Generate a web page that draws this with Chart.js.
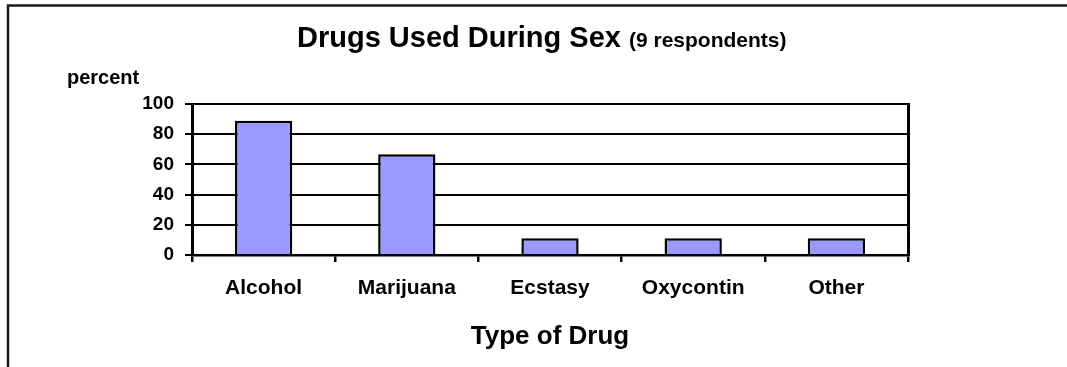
<!DOCTYPE html>
<html>
<head>
<meta charset="utf-8">
<script src="https://cdn.jsdelivr.net/npm/chart.js@4.4.1/dist/chart.umd.min.js"></script>
<style>
  html, body { margin: 0; padding: 0; background: #fff; overflow: hidden; }
  canvas { display: block; }
</style>
</head>
<body>
<canvas id="c" width="1067" height="367" style="width:1067px;height:367px"></canvas>
<script>
// Share of respondents reporting each drug
const categories = ['Alcohol', 'Marijuana', 'Ecstasy', 'Oxycontin', 'Other'];
const percentValues = [88.9, 66.7, 11.1, 11.1, 11.1];
const yTickMin = 0;
const yTickMax = 100;
const yTickStep = 20;

const titleMain = 'Drugs Used During Sex';
const titleNote = '(9 respondents)';
const yAxisLabel = 'percent';
const xAxisLabel = 'Type of Drug';

const FONT = '"Liberation Sans", Arial, Helvetica, sans-serif';

// Title, axis captions and the outer frame
const chartText = {
  id: 'chartText',
  afterDraw(chart) {
    const ctx = chart.ctx;
    const area = chart.chartArea;
    ctx.save();

    ctx.strokeStyle = '#1a1a1a';
    ctx.lineWidth = 2.5;
    ctx.beginPath();
    ctx.moveTo(8, chart.height);
    ctx.lineTo(8, 5.5);
    ctx.lineTo(chart.width, 5.5);
    ctx.stroke();

    ctx.fillStyle = '#000';
    ctx.textBaseline = 'alphabetic';
    ctx.textAlign = 'left';

    ctx.font = 'bold 29px ' + FONT;
    const w1 = ctx.measureText(titleMain + ' ').width;
    ctx.fillText(titleMain, 297, 47);
    ctx.font = 'bold 21px ' + FONT;
    ctx.fillText(titleNote, 297 + w1, 47);

    ctx.font = 'bold 20px ' + FONT;
    ctx.fillText(yAxisLabel, 67, 84);

    ctx.font = 'bold 26px ' + FONT;
    ctx.textAlign = 'center';
    ctx.fillText(xAxisLabel, (area.left + area.right) / 2, 344);

    ctx.restore();
  }
};

new Chart(document.getElementById('c'), {
  type: 'bar',
  data: {
    labels: categories,
    datasets: [{
      data: percentValues,
      backgroundColor: '#9999FF',
      borderColor: '#000',
      borderWidth: 2.5,
      barPercentage: 0.4,
      categoryPercentage: 1.0
    }]
  },
  options: {
    responsive: false,
    animation: false,
    devicePixelRatio: 1,
    layout: { padding: { left: 0, top: 104, right: 159, bottom: 0 } },
    plugins: {
      legend: { display: false },
      title: { display: false },
      tooltip: { enabled: false }
    },
    scales: {
      x: {
        grid: { offset: true, drawOnChartArea: false, color: '#000', lineWidth: 2.5, tickLength: 7 },
        border: { display: true, color: '#000', width: 2.5 },
        ticks: { color: '#000', padding: 14, font: { family: FONT, size: 21, weight: 'bold' } },
        afterFit(scale) { scale.height = 112; }
      },
      y: {
        min: yTickMin,
        max: yTickMax,
        ticks: { stepSize: yTickStep, color: '#000', padding: 11, font: { family: FONT, size: 19, weight: 'bold' } },
        grid: { color: '#000', lineWidth: 2, tickLength: 7 },
        border: { display: true, color: '#000', width: 3 },
        afterFit(scale) { scale.width = 192; }
      },
      yRight: {
        position: 'right',
        min: yTickMin,
        max: yTickMax,
        ticks: { display: false },
        grid: { drawOnChartArea: false, drawTicks: false },
        border: { display: true, color: '#000', width: 3 },
        afterFit(scale) { scale.width = 0; }
      }
    }
  },
  plugins: [chartText]
});
</script>
</body>
</html>
